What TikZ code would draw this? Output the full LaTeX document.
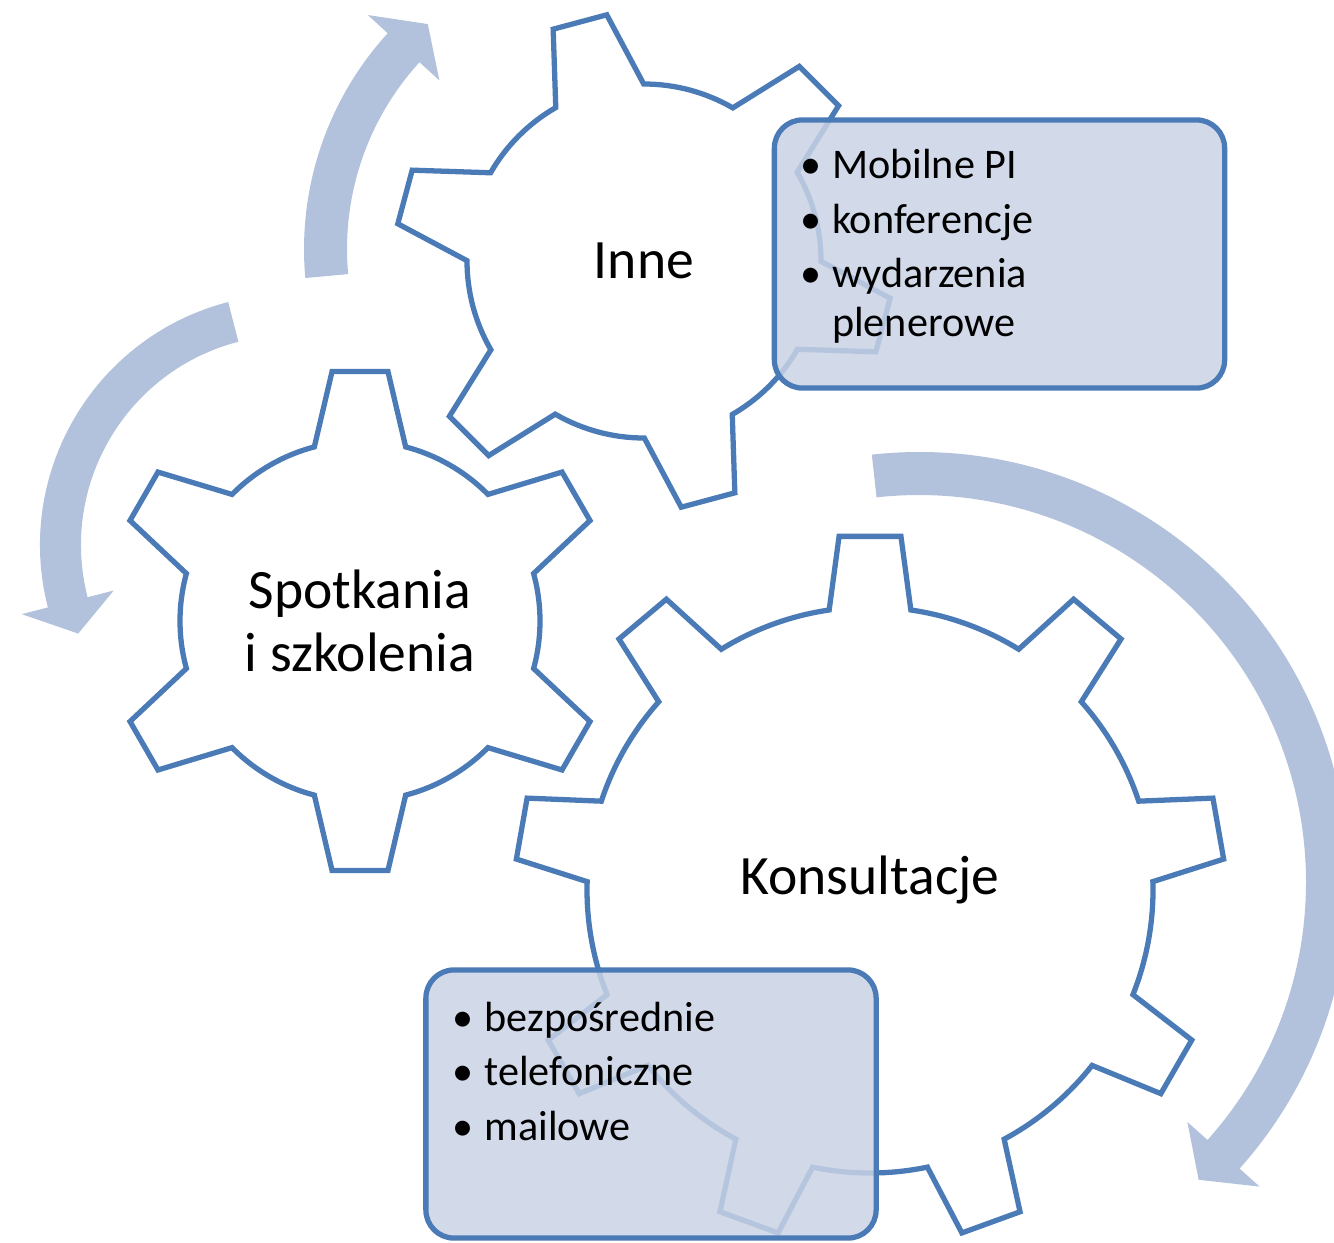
\documentclass[tikz,border=0pt]{standalone}
\usepackage{fontspec}
\setmainfont{Carlito}
\definecolor{gearblue}{RGB}{74,123,183}
\definecolor{arrowblue}{RGB}{179,194,220}
\definecolor{boxfill}{RGB}{202,210,229}
\newcommand{\bul}{\makebox[9.1pt][l]{\textbullet}}
\newcommand{\gearshape}[7]{%
\pgfmathsetmacro\gstep{360/#2}
\begin{scope}[shift={(#1)}]
\filldraw[gear] ({#3-#6}:#4) \foreach \k in {1,...,#2} {
 -- ({#3+(\k-1)*\gstep-#7}:#5) -- ({#3+(\k-1)*\gstep+#7}:#5) -- ({#3+(\k-1)*\gstep+#6}:#4)
 arc[start angle={#3+(\k-1)*\gstep+#6}, end angle={#3+\k*\gstep-#6}, radius=#4]} -- cycle;
\end{scope}}
\newcommand{\roundarrow}[7]{%
\begin{scope}[shift={(#1)}]
\fill[arrowblue] ({#4}:#3) arc[start angle={#4}, end angle={#5}, radius=#3]
 -- ({#5}:{#3+#7}) -- ({#6}:{(#2+#3)/2}) -- ({#5}:{#2-#7}) -- ({#5}:#2)
 arc[start angle={#5}, end angle={#4}, radius=#2] -- cycle;
\end{scope}}

\begin{document}
\begin{tikzpicture}[x=0.01cm,y=0.01cm,
 gear/.style={draw=gearblue,fill=white,line width=1.5pt},
 gearlabel/.style={font=\fontsize{15.8}{18}\selectfont,align=center},
 infobox/.style={draw=gearblue,line width=1.5pt,fill=boxfill,fill opacity=.85,draw opacity=1,
  rounded corners=8pt,minimum width=4.5cm,minimum height=2.68cm,outer sep=0pt},
 listtext/.style={font=\fontsize{12}{13.7}\selectfont,align=left,anchor=base west,inner sep=0pt}]
\useasboundingbox (0,0) rectangle (1334,-1242);

\roundarrow{624,-249}{277}{320}{185.2}{137.6}{131.1}{27}
\roundarrow{291,-545}{210}{251}{104.5}{194.4}{202.6}{27}
\roundarrow{919,-882}{387}{430}{96.3}{-41.8}{-46.8}{27}

\coordinate (g1) at (644,-261);
\coordinate (g2) at (360,-621);
\coordinate (g3) at (870,-890);
\gearshape{g1}{6}{45}{177}{249}{14.9}{6.4}
\gearshape{g2}{6}{30}{180}{251}{14.7}{6.4}
\gearshape{g3}{9}{90}{283}{355}{8.3}{5}

\node[gearlabel] (inne) at (g1) {Inne};
\node[gearlabel] (spotkania) at (g2) {Spotkania\\i szkolenia};
\node[gearlabel] (konsultacje) at (870,-880) {Konsultacje};

\node[infobox] (inneBox) at (999.5,-254) {};
\node[infobox] (konsBox) at (651,-1104) {};
\node[listtext] (inneList) at ([xshift=0.25cm,yshift=-2.16cm]inneBox.north west)
 {\bul Mobilne PI\\[1.8pt]\bul konferencje\\[1.8pt]\bul wydarzenia\\\hspace*{9.1pt}plenerowe};
\node[listtext] (konsList) at ([xshift=0.26cm,yshift=-1.70cm]konsBox.north west)
 {\bul bezpośrednie\\[1.8pt]\bul telefoniczne\\[1.8pt]\bul mailowe};
\end{tikzpicture}
\end{document}
